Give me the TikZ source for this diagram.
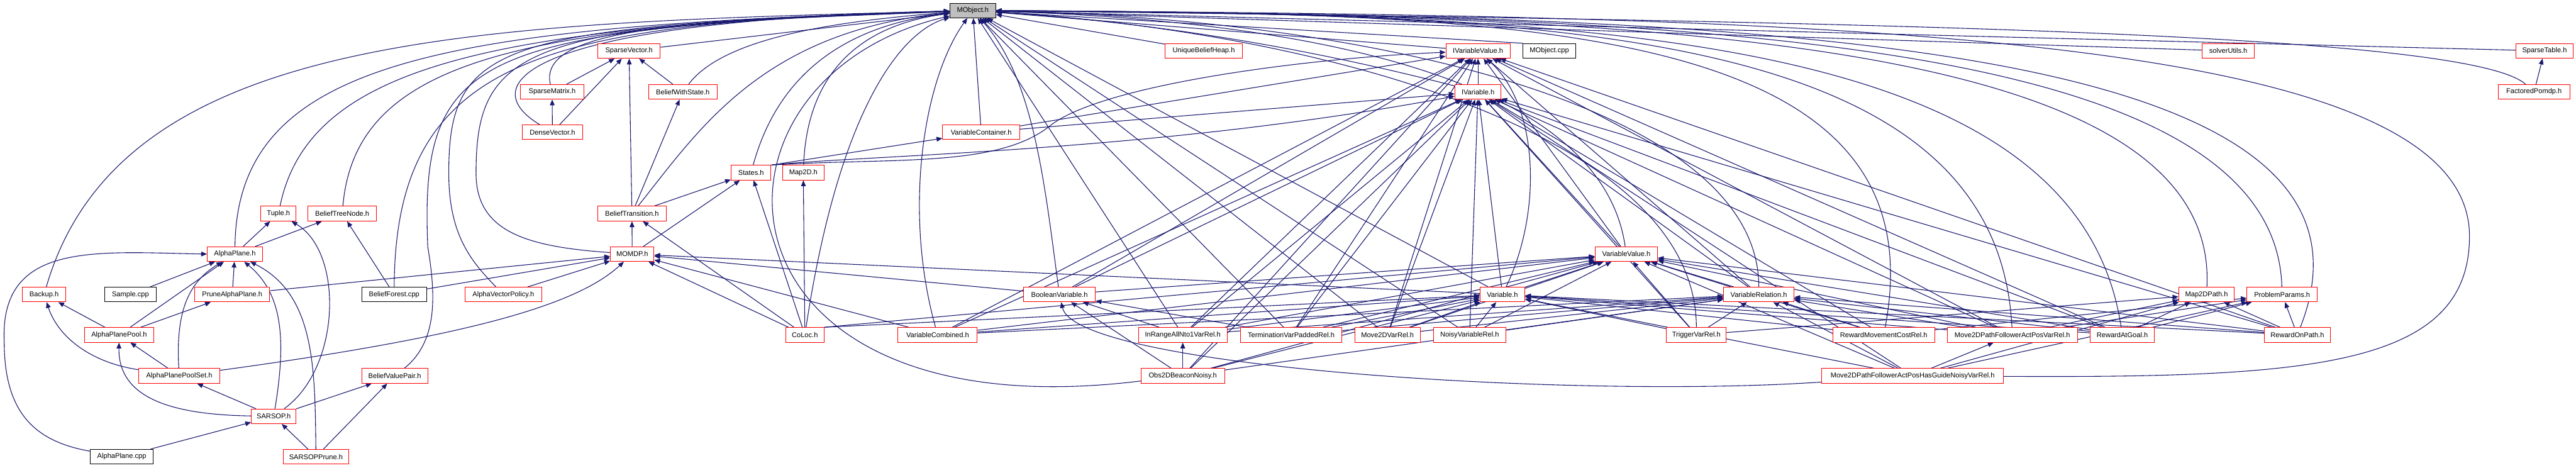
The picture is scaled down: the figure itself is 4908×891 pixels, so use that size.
\documentclass[tikz,border=0pt]{standalone}
\usepackage{fontspec}
\setmainfont{Liberation Sans}
\usetikzlibrary{arrows.meta}
\definecolor{edgenavy}{HTML}{191970}
\definecolor{rootfill}{HTML}{BFBFBF}
\pgfdeclarelayer{edgelayer}
\pgfsetlayers{edgelayer,main}
\tikzset{every picture/.style={line width=1.2pt}}
\tikzset{
  hfile/.style={draw=red, fill=white, minimum height=28pt, inner xsep=3pt, inner ysep=2pt, font=\fontsize{13.3}{16}\selectfont},
  cppfile/.style={hfile, draw=black},
  rootfile/.style={hfile, draw=black, fill=rootfill},
  dep/.style={edgenavy, line width=1.3pt, -{Triangle[length=11pt,width=9pt]}}
}
\begin{document}
\begin{tikzpicture}[x=1pt,y=1pt,yscale=-1,xscale=1]
		\useasboundingbox (0,0) rectangle (4908,891);
		
		% Text Node
		\draw (1853.5,20) node [rootfile, minimum width=87pt] (mobj) {MObject.h};
		% Text Node
		\draw (1198.5,97) node [hfile, minimum width=119pt] (sparsevec) {SparseVector.h};
		% Text Node
		\draw (2293.5,97) node [hfile, minimum width=147pt] (uniqheap) {UniqueBeliefHeap.h};
		% Text Node
		\draw (2816,97) node [hfile, minimum width=122pt] (ivarval) {IVariableValue.h};
		% Text Node
		\draw (2952,97) node [cppfile, minimum width=100pt] (mobjcpp) {MObject.cpp};
		% Text Node
		\draw (4245.5,97) node [hfile, minimum width=99pt] (solverutils) {solverUtils.h};
		% Text Node
		\draw (4848,97) node [hfile, minimum width=110pt] (sparsetable) {SparseTable.h};
		% Text Node
		\draw (1052,175) node [hfile, minimum width=120pt] (sparsemat) {SparseMatrix.h};
		% Text Node
		\draw (1301,175) node [hfile, minimum width=130pt] (beliefws) {BeliefWithState.h};
		% Text Node
		\draw (2816,175) node [hfile, minimum width=88pt] (ivar) {IVariable.h};
		% Text Node
		\draw (4828,175) node [hfile, minimum width=136pt] (factpomdp) {FactoredPomdp.h};
		% Text Node
		\draw (1052.5,252) node [hfile, minimum width=115pt] (densevec) {DenseVector.h};
		% Text Node
		\draw (1869.5,252) node [hfile, minimum width=147pt] (varcont) {VariableContainer.h};
		% Text Node
		\draw (1431,329) node [hfile, minimum width=76pt] (states) {States.h};
		% Text Node
		\draw (1530.5,329) node [hfile, minimum width=79pt] (maptwod) {Map2D.h};
		% Text Node
		\draw (530.5,407) node [hfile, minimum width=67pt] (tuple) {Tuple.h};
		% Text Node
		\draw (652,407) node [hfile, minimum width=130pt] (btnode) {BeliefTreeNode.h};
		% Text Node
		\draw (1204,407) node [hfile, minimum width=130pt] (btrans) {BeliefTransition.h};
		% Text Node
		\draw (447.5,484) node [hfile, minimum width=105pt] (aplane) {AlphaPlane.h};
		% Text Node
		\draw (1204.5,484) node [hfile, minimum width=83pt] (momdp) {MOMDP.h};
		% Text Node
		\draw (3098.5,484) node [hfile, minimum width=119pt] (varval) {VariableValue.h};
		% Text Node
		\draw (84,561) node [hfile, minimum width=82pt] (backup) {Backup.h};
		% Text Node
		\draw (248.5,561) node [cppfile, minimum width=99pt] (samplecpp) {Sample.cpp};
		% Text Node
		\draw (442.5,561) node [hfile, minimum width=143pt] (prunealpha) {PruneAlphaPlane.h};
		% Text Node
		\draw (751,561) node [cppfile, minimum width=124pt] (bforestcpp) {BeliefForest.cpp};
		% Text Node
		\draw (959,561) node [hfile, minimum width=146pt] (avpolicy) {AlphaVectorPolicy.h};
		% Text Node
		\draw (2018.5,561) node [hfile, minimum width=137pt] (boolvar) {BooleanVariable.h};
		% Text Node
		\draw (2862.5,561) node [hfile, minimum width=85pt] (variable) {Variable.h};
		% Text Node
		\draw (3351,561) node [hfile, minimum width=134pt] (varrel) {VariableRelation.h};
		% Text Node
		\draw (4204,561) node [hfile, minimum width=106pt] (mappath) {Map2DPath.h};
		% Text Node
		\draw (4348,561) node [hfile, minimum width=134pt] (probparams) {ProblemParams.h};
		% Text Node
		\draw (227,638) node [hfile, minimum width=132pt] (apool) {AlphaPlanePool.h};
		% Text Node
		\draw (1533.5,638) node [hfile, minimum width=73pt] (coloc) {CoLoc.h};
		% Text Node
		\draw (1786.5,638) node [hfile, minimum width=151pt] (varcomb) {VariableCombined.h};
		% Text Node
		\draw (2253.5,638) node [hfile, minimum width=169pt] (inrange) {InRangeAllNto1VarRel.h};
		% Text Node
		\draw (2460,638) node [hfile, minimum width=194pt] (termvar) {TerminationVarPaddedRel.h};
		% Text Node
		\draw (2643.5,638) node [hfile, minimum width=125pt] (movevar) {Move2DVarRel.h};
		% Text Node
		\draw (2800,638) node [hfile, minimum width=138pt] (noisyvar) {NoisyVariableRel.h};
		% Text Node
		\draw (3232,638) node [hfile, minimum width=114pt] (triggervar) {TriggerVarRel.h};
		% Text Node
		\draw (3589,638) node [hfile, minimum width=194pt] (rewmove) {RewardMovementCostRel.h};
		% Text Node
		\draw (3834,638) node [hfile, minimum width=248pt] (movepf) {Move2DPathFollowerActPosVarRel.h};
		% Text Node
		\draw (4043.5,638) node [hfile, minimum width=123pt] (rewgoal) {RewardAtGoal.h};
		% Text Node
		\draw (4377,638) node [hfile, minimum width=126pt] (rewpath) {RewardOnPath.h};
		% Text Node
		\draw (341.5,716) node [hfile, minimum width=155pt] (apoolset) {AlphaPlanePoolSet.h};
		% Text Node
		\draw (752,716) node [hfile, minimum width=126pt] (bvpair) {BeliefValuePair.h};
		% Text Node
		\draw (2253.5,716) node [hfile, minimum width=159pt] (obsbeacon) {Obs2DBeaconNoisy.h};
		% Text Node
		\draw (3644,716) node [hfile, minimum width=346pt] (moveguide) {Move2DPathFollowerActPosHasGuideNoisyVarRel.h};
		% Text Node
		\draw (521.5,793) node [hfile, minimum width=85pt] (sarsop) {SARSOP.h};
		% Text Node
		\draw (232,870) node [cppfile, minimum width=120pt] (aplanecpp) {AlphaPlane.cpp};
		% Text Node
		\draw (602,870) node [hfile, minimum width=124pt] (sarsopprune) {SARSOPPrune.h};
		
		\begin{pgfonlayer}{edgelayer}
		%Curve Lines into MObject.h, left side
		\draw [dep] (backup) .. controls (230,60) and (900,45) .. (mobj) ;
		\draw [dep] (aplane) .. controls (452,110) and (850,50) .. (mobj) ;
		\draw [dep] (tuple) .. controls (590,120) and (950,48) .. (mobj) ;
		\draw [dep] (btnode) .. controls (678,110) and (1000,46) .. (mobj) ;
		\draw [dep] (bforestcpp) .. controls (753,100) and (1050,44) .. (mobj) ;
		\draw [dep] (bvpair) .. controls (835,650) and (830,560) .. (815,470) .. controls (800,100) and (900,55) .. (mobj) ;
		\draw [dep] (avpolicy) .. controls (900,500) and (855,450) .. (855,330) .. controls (855,80) and (950,50) .. (mobj) ;
		\draw [dep] (momdp) .. controls (1000,470) and (907,440) .. (907,330) .. controls (907,90) and (1000,45) .. (mobj) ;
		\draw [dep] (sparsemat) .. controls (1020,40) and (1400,40) .. (mobj) ;
		\draw [dep] (densevec) .. controls (900,160) and (1000,40) .. (mobj) ;
		\draw [dep] (sparsevec) -- (mobj) ;
		\draw [dep] (beliefws) .. controls (1380,70) and (1600,40) .. (mobj) ;
		\draw [dep] (btrans) .. controls (1330,250) and (1450,60) .. (mobj) ;
		\draw [dep] (states) .. controls (1480,150) and (1600,50) .. (mobj) ;
		\draw [dep] (maptwod) .. controls (1540,90) and (1700,40) .. (mobj) ;
		\draw [dep] (coloc) .. controls (1600,200) and (1720,60) .. (mobj) ;
		\draw [dep] (obsbeacon) .. controls (1330,830) and (1300,150) .. (mobj) ;
		%Lines into MObject.h, below and right side
		\draw [dep] (varcont) -- (mobj) ;
		\draw [dep] (varcomb) .. controls (1720,400) and (1760,150) .. (mobj) ;
		\draw [dep] (boolvar) .. controls (1990,350) and (1970,150) .. (mobj) ;
		\draw [dep] (inrange) -- (mobj) ;
		\draw [dep] (termvar) -- (mobj) ;
		\draw [dep] (movevar) -- (mobj) ;
		\draw [dep] (noisyvar) -- (mobj) ;
		\draw [dep] (variable) -- (mobj) ;
		\draw [dep] (uniqheap) -- (mobj) ;
		\draw [dep] (ivarval) -- (mobj) ;
		\draw [dep] (ivar) .. controls (2600,120) and (2300,50) .. (mobj) ;
		\draw [dep] (mobjcpp.north west) -- (mobj) ;
		\draw [dep] (varval) .. controls (3050,150) and (2500,40) .. (mobj) ;
		\draw [dep] (varrel) .. controls (3351,200) and (2600,35) .. (mobj) ;
		\draw [dep] (triggervar) .. controls (3232,250) and (2500,60) .. (mobj) ;
		\draw [dep] (rewmove) .. controls (3702,40) and (2900,25) .. (mobj) ;
		\draw [dep] (movepf) .. controls (3804,45) and (2950,26) .. (mobj) ;
		\draw [dep] (rewgoal) .. controls (3956,50) and (3000,28) .. (mobj) ;
		\draw [dep] (mappath) .. controls (4229,60) and (3100,30) .. (mobj) ;
		\draw [dep] (probparams) .. controls (4333,55) and (3150,30) .. (mobj) ;
		\draw [dep] (rewpath) .. controls (4604,60) and (3300,30) .. (mobj) ;
		\draw [dep] (moveguide) .. controls (4400,720) and (4705,700) .. (4705,450) .. controls (4705,60) and (3500,30) .. (mobj) ;
		\draw [dep] (solverutils) -- (mobj) ;
		\draw [dep] (sparsetable) -- (mobj) ;
		\draw [dep] (factpomdp) .. controls (4700,60) and (3500,40) .. (mobj) ;
		
		%Lines of the AlphaPlane group
		\draw [dep] (aplane) -- (tuple) ;
		\draw [dep] (sarsop) .. controls (650,700) and (655,480) .. (tuple) ;
		\draw [dep] (aplane) -- (btnode) ;
		\draw [dep] (bforestcpp) -- (btnode) ;
		\draw [dep] (aplanecpp) .. controls (60,840) and (8,780) .. (8,650) .. controls (0,460) and (180,480) .. (aplane.west) ;
		\draw [dep] (apool) -- (aplane) ;
		\draw [dep] (samplecpp) -- (aplane) ;
		\draw [dep] (apoolset) .. controls (335,600) and (355,540) .. (aplane) ;
		\draw [dep] (prunealpha) -- (aplane) ;
		\draw [dep] (sarsop) .. controls (545,650) and (540,560) .. (aplane) ;
		\draw [dep] (sarsopprune) .. controls (600,700) and (600,560) .. (aplane) ;
		\draw [dep] (apool) -- (backup) ;
		\draw [dep] (apoolset) .. controls (170,690) and (110,640) .. (backup) ;
		\draw [dep] (apool) -- (prunealpha) ;
		\draw [dep] (apoolset) -- (apool) ;
		\draw [dep] (sarsop) .. controls (330,790) and (225,760) .. (apool) ;
		\draw [dep] (sarsop) -- (apoolset) ;
		\draw [dep] (sarsop) -- (bvpair) ;
		\draw [dep] (sarsopprune) -- (bvpair) ;
		\draw [dep] (sarsopprune) -- (sarsop) ;
		\draw [dep] (aplanecpp) -- (sarsop) ;
		
		%Lines into MOMDP.h
		\draw [dep] (prunealpha) -- (momdp) ;
		\draw [dep] (bforestcpp) -- (momdp) ;
		\draw [dep] (apoolset) .. controls (900,640) and (1100,580) .. (momdp) ;
		\draw [dep] (avpolicy) -- (momdp) ;
		\draw [dep] (coloc) -- (momdp) ;
		\draw [dep] (boolvar) -- (momdp) ;
		\draw [dep] (varcomb) -- (momdp) ;
		\draw [dep] (variable) -- (momdp) ;
		
		%Lines of the belief and vector group
		\draw [dep] (momdp) -- (btrans) ;
		\draw [dep] (coloc) -- (btrans) ;
		\draw [dep] (momdp) -- (states) ;
		\draw [dep] (coloc) -- (states) ;
		\draw [dep] (btrans) -- (states) ;
		\draw [dep] (coloc) -- (maptwod) ;
		\draw [dep] (sparsemat) -- (sparsevec) ;
		\draw [dep] (densevec) -- (sparsevec) ;
		\draw [dep] (beliefws) -- (sparsevec) ;
		\draw [dep] (btrans) -- (sparsevec) ;
		\draw [dep] (densevec) -- (sparsemat) ;
		\draw [dep] (btrans) -- (beliefws) ;
		\draw [dep] (factpomdp) -- (sparsetable) ;
		\draw [dep] (states.north east) -- (varcont) ;
		\draw [dep] (states.north east) .. controls (1650,295) and (2200,290) .. (ivar) ;
		\draw [dep] (states.north east) .. controls (1700,300) and (1900,320) .. (2000,240) .. controls (2100,160) and (2500,110) .. (ivarval) ;
		\draw [dep] (varcont) -- (ivar) ;
		\draw [dep] (varcont) -- (ivarval) ;
		
		%Lines into IVariableValue.h
		\draw [dep] (ivar) -- (ivarval) ;
		\draw [dep] (varval) -- (ivarval) ;
		\draw [dep] (variable) .. controls (2940,400) and (2930,200) .. (ivarval) ;
		\draw [dep] (varcomb) -- (ivarval) ;
		\draw [dep] (boolvar) -- (ivarval) ;
		\draw [dep] (inrange) -- (ivarval) ;
		\draw [dep] (termvar) -- (ivarval) ;
		\draw [dep] (movevar) -- (ivarval) ;
		\draw [dep] (varrel) -- (ivarval) ;
		\draw [dep] (obsbeacon) -- (ivarval) ;
		\draw [dep] (rewgoal) -- (ivarval) ;
		\draw [dep] (movepf) -- (ivarval) ;
		\draw [dep] (rewpath) -- (ivarval) ;
		
		%Lines into IVariable.h
		\draw [dep] (varcomb) -- (ivar) ;
		\draw [dep] (boolvar) -- (ivar) ;
		\draw [dep] (inrange) -- (ivar) ;
		\draw [dep] (termvar) -- (ivar) ;
		\draw [dep] (movevar) -- (ivar) ;
		\draw [dep] (noisyvar) -- (ivar) ;
		\draw [dep] (variable) -- (ivar) ;
		\draw [dep] (varval) -- (ivar) ;
		\draw [dep] (triggervar) -- (ivar) ;
		\draw [dep] (varrel) -- (ivar) ;
		\draw [dep] (rewmove) -- (ivar) ;
		\draw [dep] (movepf) -- (ivar) ;
		\draw [dep] (rewgoal) -- (ivar) ;
		\draw [dep] (rewpath) -- (ivar) ;
		\draw [dep] (obsbeacon) -- (ivar) ;
		\draw [dep] (moveguide) -- (ivar) ;
		
		%Lines into VariableValue.h
		\draw [dep] (variable) -- (varval) ;
		\draw [dep] (boolvar) -- (varval) ;
		\draw [dep] (varcomb) -- (varval) ;
		\draw [dep] (varrel) -- (varval) ;
		\draw [dep] (inrange) -- (varval) ;
		\draw [dep] (termvar) -- (varval) ;
		\draw [dep] (movevar) -- (varval) ;
		\draw [dep] (noisyvar) -- (varval) ;
		\draw [dep] (triggervar) -- (varval) ;
		\draw [dep] (rewmove) -- (varval) ;
		\draw [dep] (movepf) -- (varval) ;
		\draw [dep] (rewgoal) -- (varval) ;
		\draw [dep] (rewpath) -- (varval) ;
		\draw [dep] (obsbeacon) -- (varval) ;
		\draw [dep] (moveguide) -- (varval) ;
		\draw [dep] (coloc.north east) -- (varval) ;
		
		%Lines into Variable.h
		\draw [dep] (varcomb) -- (variable) ;
		\draw [dep] (inrange) -- (variable) ;
		\draw [dep] (termvar) -- (variable) ;
		\draw [dep] (movevar) -- (variable) ;
		\draw [dep] (noisyvar) -- (variable) ;
		\draw [dep] (triggervar) -- (variable) ;
		\draw [dep] (rewmove) -- (variable) ;
		\draw [dep] (movepf) -- (variable) ;
		\draw [dep] (rewgoal) -- (variable) ;
		\draw [dep] (rewpath) -- (variable) ;
		\draw [dep] (obsbeacon) -- (variable) ;
		\draw [dep] (moveguide) -- (variable) ;
		\draw [dep] (coloc.north east) -- (variable) ;
		
		%Lines into VariableRelation.h
		\draw [dep] (inrange) -- (varrel) ;
		\draw [dep] (termvar) -- (varrel) ;
		\draw [dep] (movevar) -- (varrel) ;
		\draw [dep] (noisyvar) -- (varrel) ;
		\draw [dep] (triggervar) -- (varrel) ;
		\draw [dep] (rewmove) -- (varrel) ;
		\draw [dep] (movepf) -- (varrel) ;
		\draw [dep] (rewgoal) -- (varrel) ;
		\draw [dep] (rewpath) -- (varrel) ;
		\draw [dep] (obsbeacon) -- (varrel) ;
		\draw [dep] (moveguide) -- (varrel) ;
		\draw [dep] (varcomb) -- (varrel) ;
		
		%Lines of the relation headers
		\draw [dep] (obsbeacon) -- (boolvar) ;
		\draw [dep] (moveguide) .. controls (3000,760) and (2050,700) .. (boolvar) ;
		\draw [dep] (inrange) -- (boolvar) ;
		\draw [dep] (termvar) -- (boolvar) ;
		\draw [dep] (obsbeacon) -- (inrange) ;
		\draw [dep] (movepf) -- (mappath) ;
		\draw [dep] (rewgoal) -- (mappath) ;
		\draw [dep] (rewpath) -- (mappath) ;
		\draw [dep] (moveguide) -- (mappath) ;
		\draw [dep] (triggervar) -- (mappath) ;
		\draw [dep] (rewgoal) -- (probparams) ;
		\draw [dep] (rewpath) -- (probparams) ;
		\draw [dep] (moveguide) -- (probparams) ;
		\draw [dep] (movepf) -- (probparams) ;
		\draw [dep] (rewmove) -- (probparams) ;
		\draw [dep] (moveguide) -- (movepf) ;
		\end{pgfonlayer}
	\end{tikzpicture}
\end{document}
